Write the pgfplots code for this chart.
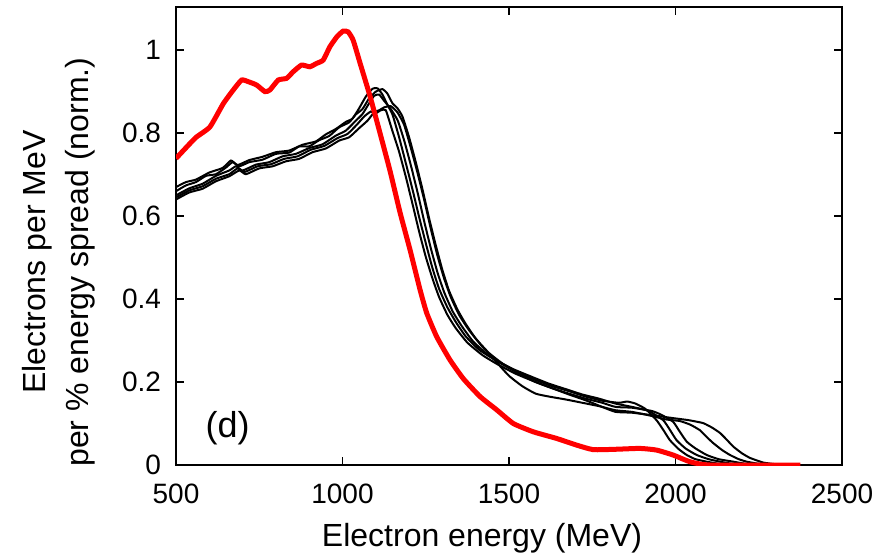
\documentclass[border=0pt]{standalone}
\usepackage{fontspec}
\setmainfont{Liberation Sans}
\usepackage{pgfplots}
\pgfplotsset{compat=1.18}
\begin{document}
\begin{tikzpicture}
\begin{axis}[
  scale only axis,
  width=333pt, height=229pt,
  xmin=500, xmax=2500, ymin=0, ymax=1.104,
  xtick={500,1000,1500,2000,2500},
  ytick={0,0.2,0.4,0.6,0.8,1},
  yticklabels={0,0.2,0.4,0.6,0.8,1},
  xticklabels={500,1000,1500,2000,2500},
  tick align=inside,
  major tick length=4pt,
  minor tick num=0,
  axis line style={line width=0.9pt},
  every tick/.style={line width=0.8pt, black},
  tick label style={font=\fontsize{14}{17}\selectfont},
  xticklabel style={yshift=-5.8pt},
  yticklabel style={xshift=-4pt},
  label style={font=\fontsize{16}{21.5}\selectfont},
  xlabel={Electron energy (MeV)},
  xlabel style={at={(rel axis cs:0.4595,-0.159)}, anchor=center},
  ylabel={\fontsize{16}{21.5}\selectfont Electrons per MeV\\\fontsize{16}{21.5}\selectfont per \% energy spread (norm.)},
  ylabel style={at={(rel axis cs:-0.1764,0.443)}, anchor=center, align=center},
  clip=true,
]
% black curves
\addplot[black, line width=1pt, smooth, tension=0.3] coordinates {
(500,0.660) (530,0.674) (560,0.682) (590,0.697) (620,0.701) (650,0.717) (670,0.730) (690,0.720) (720,0.730) (760,0.736) (800,0.750) (840,0.753) (870,0.768) (900,0.768) (930,0.783) (960,0.793) (990,0.814) (1020,0.826) (1040,0.845) (1060,0.858) (1080,0.884) (1100,0.900) (1120,0.906) (1135,0.895) (1150,0.872) (1165,0.860) (1180,0.840) (1200,0.790) (1220,0.730) (1240,0.665) (1260,0.595) (1280,0.530) (1300,0.470) (1320,0.420) (1345,0.375) (1370,0.340) (1400,0.305) (1440,0.270) (1480,0.245) (1530,0.222) (1580,0.205) (1630,0.190) (1680,0.178) (1730,0.165) (1780,0.155) (1830,0.150) (1855,0.153) (1880,0.148) (1910,0.135) (1943,0.108) (1963,0.085) (1983,0.060) (2010,0.038) (2034,0.024) (2060,0.014) (2094,0.008) (2130,0.003) (2180,0.0) (2500,0.0)
};
\addplot[black, line width=1pt, smooth, tension=0.3] coordinates {
(500,0.670) (530,0.682) (560,0.688) (600,0.705) (640,0.716) (665,0.734) (685,0.723) (720,0.735) (760,0.743) (800,0.754) (840,0.758) (880,0.772) (920,0.780) (950,0.797) (980,0.810) (1010,0.827) (1030,0.835) (1050,0.860) (1070,0.888) (1090,0.907) (1105,0.908) (1120,0.893) (1135,0.868) (1150,0.845) (1170,0.790) (1190,0.728) (1210,0.665) (1230,0.598) (1250,0.535) (1270,0.475) (1290,0.425) (1315,0.380) (1340,0.345) (1370,0.310) (1410,0.278) (1455,0.255) (1510,0.232) (1570,0.212) (1620,0.196) (1670,0.183) (1720,0.170) (1770,0.160) (1820,0.148) (1870,0.140) (1920,0.130) (1963,0.108) (1983,0.085) (2003,0.060) (2030,0.040) (2064,0.024) (2100,0.014) (2134,0.008) (2170,0.003) (2220,0.0) (2500,0.0)
};
\addplot[black, line width=1pt, smooth, tension=0.3] coordinates {
(500,0.650) (540,0.667) (580,0.678) (620,0.697) (660,0.710) (680,0.720) (700,0.710) (740,0.724) (780,0.730) (820,0.744) (860,0.750) (900,0.764) (940,0.773) (980,0.794) (1010,0.806) (1040,0.830) (1060,0.846) (1080,0.872) (1095,0.890) (1110,0.893) (1125,0.878) (1145,0.858) (1166,0.830) (1186,0.780) (1206,0.720) (1226,0.655) (1246,0.585) (1266,0.520) (1286,0.462) (1306,0.415) (1331,0.370) (1358,0.335) (1390,0.300) (1432,0.268) (1475,0.245) (1530,0.220) (1580,0.200) (1630,0.185) (1680,0.172) (1730,0.160) (1780,0.150) (1820,0.140) (1870,0.138) (1930,0.130) (1960,0.120) (1993,0.104) (2013,0.080) (2034,0.056) (2060,0.040) (2094,0.024) (2130,0.014) (2174,0.008) (2210,0.003) (2260,0.0) (2500,0.0)
};
\addplot[black, line width=1pt, smooth, tension=0.3] coordinates {
(500,0.640) (540,0.657) (580,0.666) (620,0.684) (660,0.696) (690,0.710) (710,0.701) (750,0.715) (790,0.720) (830,0.732) (870,0.738) (910,0.754) (950,0.763) (990,0.782) (1020,0.790) (1050,0.812) (1075,0.830) (1095,0.850) (1110,0.855) (1125,0.862) (1145,0.865) (1165,0.850) (1185,0.820) (1205,0.765) (1225,0.705) (1245,0.640) (1265,0.570) (1285,0.505) (1305,0.450) (1325,0.405) (1350,0.362) (1380,0.325) (1420,0.285) (1460,0.250) (1500,0.215) (1540,0.190) (1580,0.172) (1620,0.165) (1670,0.158) (1720,0.150) (1770,0.142) (1820,0.132) (1870,0.128) (1930,0.118) (1970,0.110) (2013,0.106) (2045,0.097) (2073,0.084) (2093,0.068) (2113,0.053) (2140,0.036) (2164,0.024) (2190,0.014) (2214,0.008) (2250,0.003) (2300,0.0) (2500,0.0)
};
\addplot[black, line width=1pt, smooth, tension=0.3] coordinates {
(500,0.645) (540,0.662) (580,0.672) (620,0.690) (660,0.701) (685,0.715) (705,0.706) (745,0.720) (785,0.725) (825,0.738) (865,0.744) (905,0.760) (945,0.769) (985,0.788) (1015,0.798) (1045,0.822) (1065,0.840) (1085,0.852) (1100,0.848) (1115,0.855) (1130,0.855) (1150,0.805) (1170,0.755) (1190,0.695) (1210,0.630) (1230,0.563) (1250,0.502) (1270,0.450) (1290,0.405) (1315,0.362) (1340,0.330) (1375,0.295) (1420,0.265) (1465,0.243) (1520,0.220) (1580,0.200) (1630,0.185) (1680,0.170) (1730,0.156) (1780,0.140) (1820,0.128) (1870,0.126) (1930,0.120) (1993,0.113) (2040,0.108) (2083,0.101) (2110,0.090) (2134,0.077) (2155,0.060) (2174,0.044) (2200,0.028) (2224,0.017) (2263,0.006) (2300,0.002) (2340,0.0) (2500,0.0)
};
% red curve
\addplot[red, line width=2.5pt, smooth, tension=0.3] coordinates {
(500,0.739) (542,0.775) (562,0.791) (602,0.815) (642,0.871) (672,0.904) (697,0.928) (717,0.924) (742,0.916) (767,0.900) (782,0.904) (807,0.928) (832,0.932) (852,0.948) (877,0.964) (902,0.960) (922,0.968) (942,0.976) (962,1.008) (983,1.032) (1002,1.046) (1017,1.044) (1032,1.024) (1053,0.968) (1083,0.888) (1113,0.799) (1143,0.708) (1173,0.608) (1203,0.518) (1233,0.422) (1253,0.366) (1283,0.309) (1323,0.253) (1363,0.208) (1413,0.165) (1463,0.133) (1513,0.100) (1573,0.080) (1643,0.064) (1703,0.048) (1753,0.037) (1823,0.038) (1893,0.040) (1943,0.036) (1993,0.024) (2043,0.008) (2103,0.0) (2375,0.0)
};
\node[font=\fontsize{18}{20}\selectfont] at (axis cs:655,0.088) {(d)};
\end{axis}
\pgfresetboundingbox
\path (-88pt,-46pt) rectangle (352.5pt,232.5pt);
\end{tikzpicture}
\end{document}
